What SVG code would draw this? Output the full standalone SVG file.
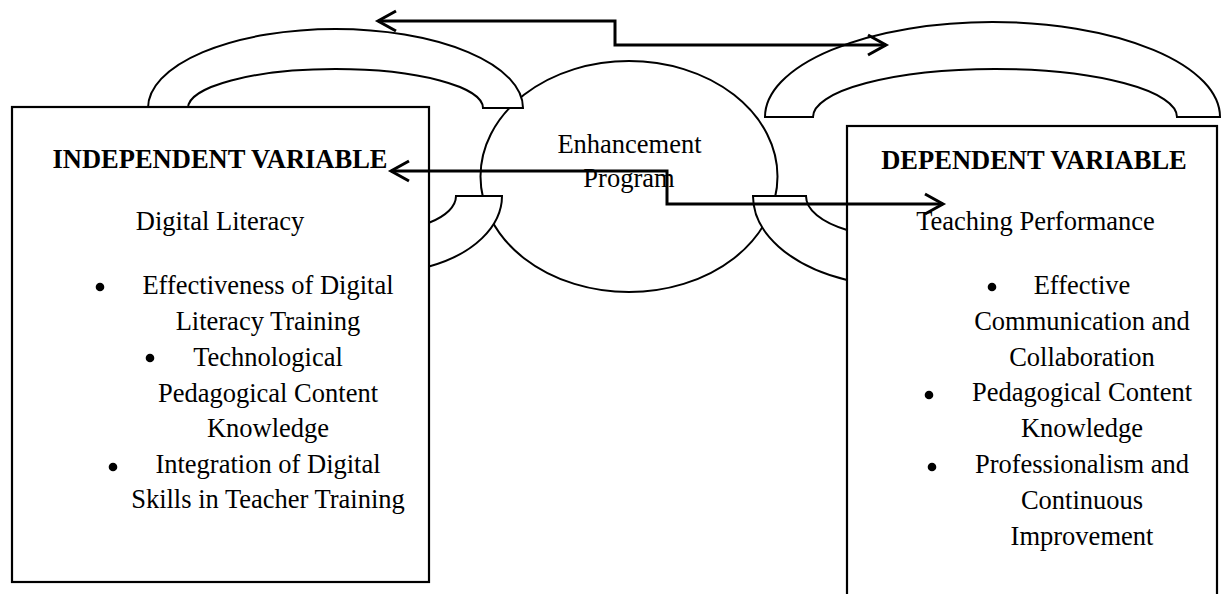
<svg xmlns="http://www.w3.org/2000/svg" width="1221" height="594" viewBox="0 0 1221 594">
<style>
.sh{fill:#fff;stroke:#000;stroke-width:2}
.box{fill:#fff;stroke:#000;stroke-width:2.2}
.t{font-family:"Liberation Serif","Times New Roman",serif;font-size:26.5px;fill:#000}
.b{font-weight:bold}
.m{text-anchor:middle}
.dot{fill:#000}
.ar{fill:none;stroke:#000;stroke-width:3;stroke-linejoin:miter}
</style>
<defs>
<marker id="chev" viewBox="-22 -13 26 26" refX="0" refY="0" markerWidth="26" markerHeight="26" markerUnits="userSpaceOnUse" orient="auto-start-reverse">
<path d="M-18,-10 L0,0 L-18,10" fill="none" stroke="#000" stroke-width="3"/>
</marker>
</defs>
<rect width="1221" height="594" fill="#fff"/>

<g id="enhancement">
<ellipse class="sh" cx="629" cy="176.5" rx="148.5" ry="115.5"/>
<text class="t m" x="629.5" y="153">Enhancement</text>
<text class="t m" x="629" y="187">Program</text>
</g>

<g id="curve-bottom-left">
<path class="sh" d="M456,196 L502,196 A122,77 0 0 1 429,266.5 L429,222.8 A76,35 0 0 0 456,196 Z"/>
</g>
<g id="curve-bottom-right">
<path class="sh" d="M806,196 L753,196 A150,90.5 0 0 0 847,280 L847,230 A90,40.5 0 0 1 806,196 Z"/>
</g>
<g id="curve-top-left">
<path class="sh" d="M148,108 A187.5,79 0 0 1 523,108 L483,108 A147.5,39 0 0 0 188,108 Z"/>
</g>
<g id="curve-top-right">
<path class="sh" d="M765,117 A227.5,95 0 0 1 1220,117 L1177,117 A182,48 0 0 0 813,117 Z"/>
</g>

<g id="independent">
<rect class="box" x="12" y="107" width="417" height="475"/>
<text class="t b m" x="220" y="168">INDEPENDENT VARIABLE</text>
<text class="t m" x="220" y="230">Digital Literacy</text>
<circle class="dot" cx="100" cy="287" r="4.3"/>
<text class="t m" x="268" y="294">Effectiveness of Digital</text>
<text class="t m" x="268" y="330">Literacy Training</text>
<circle class="dot" cx="150" cy="358" r="4.3"/>
<text class="t m" x="268" y="366">Technological</text>
<text class="t m" x="268" y="402">Pedagogical Content</text>
<text class="t m" x="268" y="437">Knowledge</text>
<circle class="dot" cx="113" cy="467" r="4.3"/>
<text class="t m" x="268" y="473">Integration of Digital</text>
<text class="t m" x="268" y="508">Skills in Teacher Training</text>
</g>

<g id="dependent">
<rect class="box" x="847" y="126" width="370" height="480"/>
<text class="t b m" x="1034" y="169">DEPENDENT VARIABLE</text>
<text class="t m" x="1035.5" y="230">Teaching Performance</text>
<circle class="dot" cx="992" cy="287" r="4.3"/>
<text class="t m" x="1082" y="294">Effective</text>
<text class="t m" x="1082" y="330">Communication and</text>
<text class="t m" x="1082" y="366">Collaboration</text>
<circle class="dot" cx="929" cy="395" r="4.3"/>
<text class="t m" x="1082" y="401">Pedagogical Content</text>
<text class="t m" x="1082" y="437">Knowledge</text>
<circle class="dot" cx="932" cy="467" r="4.3"/>
<text class="t m" x="1082" y="473">Professionalism and</text>
<text class="t m" x="1082" y="509">Continuous</text>
<text class="t m" x="1082" y="545">Improvement</text>
</g>

<g id="connectors">
<polyline class="ar" points="378,21 615,21 615,45 886,45" marker-start="url(#chev)" marker-end="url(#chev)"/>
<polyline class="ar" points="391,171 667,171 667,204 943,204" marker-start="url(#chev)" marker-end="url(#chev)"/>
</g>
</svg>
